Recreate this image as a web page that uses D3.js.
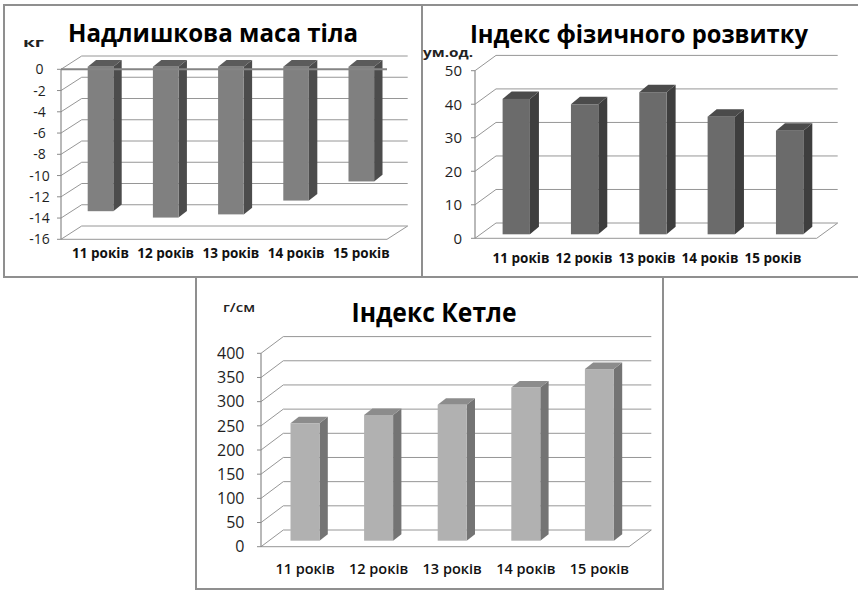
<!DOCTYPE html>
<html>
<head>
<meta charset="utf-8">
<script src="https://cdn.jsdelivr.net/npm/d3@7"></script>
<style>
  html, body { margin: 0; padding: 0; background: #fff; }
  svg { display: block; }
  text { font-family: "Open Sans", "Noto Sans", "DejaVu Sans", sans-serif; }
</style>
</head>
<body>
<svg id="chart" width="858" height="590"></svg>
<script>
// Age groups shared by all three charts
const categories = ["11 років", "12 років", "13 років", "14 років", "15 років"];

// Excess body mass, kg
const excessMass = [-13.6, -14.2, -13.9, -12.6, -10.8];
const massTicks = [0, -2, -4, -6, -8, -10, -12, -14, -16];

// Physical development index, conventional units
const developmentIndex = [40.4, 38.8, 42.4, 35.1, 30.9];
const developmentTicks = [0, 10, 20, 30, 40, 50];

// Quetelet index, g/cm
const queteletIndex = [243, 260, 281, 317, 355];
const queteletTicks = [0, 50, 100, 150, 200, 250, 300, 350, 400];

const titles = ["Надлишкова маса тіла", "Індекс фізичного розвитку", "Індекс Кетле"];
const units = ["кг", "ум.од.", "г/см"];

const svg = d3.select("#chart");

// Panel frames
const frames = [
  { x: 4, y: 5, w: 418, h: 272 },
  { x: 422, y: 5, w: 440, h: 272 },
  { x: 196, y: 277, w: 467, h: 312 }
];
svg.selectAll("rect.frame").data(frames).join("rect")
  .attr("class", "frame")
  .attr("x", d => d.x).attr("y", d => d.y)
  .attr("width", d => d.w).attr("height", d => d.h)
  .attr("fill", "none").attr("stroke", "#8f8f8f").attr("stroke-width", 2);

// Draws one pseudo-3D column chart: back wall, side wall gridlines, floor, bars, labels
function column3d(cfg) {
  const g = svg.append("g");
  const x = d3.scaleBand().domain(categories).range([cfg.left, cfg.right]).padding(0);
  const y = d3.scaleLinear().domain(cfg.domain).range([cfg.bottom, cfg.top]);
  const [dx, dy] = cfg.depth;
  const grid = "#969696";

  // side wall diagonals and back wall gridlines
  g.selectAll("line.diag").data(cfg.ticks).join("line")
    .attr("x1", cfg.left).attr("y1", d => y(d))
    .attr("x2", cfg.left + dx).attr("y2", d => y(d) + dy)
    .attr("stroke", grid).attr("stroke-width", 1);
  g.selectAll("line.back").data(cfg.ticks).join("line")
    .attr("x1", cfg.left + dx).attr("y1", d => y(d) + dy)
    .attr("x2", cfg.right + dx).attr("y2", d => y(d) + dy)
    .attr("stroke", grid).attr("stroke-width", 1);

  // floor front edge and right edge
  const floorV = cfg.domain[0];
  g.append("line")
    .attr("x1", cfg.left).attr("y1", y(floorV))
    .attr("x2", cfg.right).attr("y2", y(floorV))
    .attr("stroke", grid).attr("stroke-width", 1);
  g.append("line")
    .attr("x1", cfg.right).attr("y1", y(floorV))
    .attr("x2", cfg.right + dx).attr("y2", y(floorV) + dy)
    .attr("stroke", grid).attr("stroke-width", 1);

  // value axis line with outer ticks
  g.append("line")
    .attr("x1", cfg.left).attr("y1", y(cfg.domain[1]))
    .attr("x2", cfg.left).attr("y2", y(cfg.domain[0]))
    .attr("stroke", "#8a8a8a").attr("stroke-width", 1.2);
  g.selectAll("line.tick").data(cfg.ticks).join("line")
    .attr("x1", cfg.left - 4).attr("y1", d => y(d))
    .attr("x2", cfg.left).attr("y2", d => y(d))
    .attr("stroke", "#8a8a8a").attr("stroke-width", 1);

  // bars
  const barW = x.bandwidth() * cfg.barRatio;
  const [ox, oy] = cfg.barOffset;
  const [bdx, bdy] = cfg.barDepth;
  const bars = cfg.values.map((v, i) => {
    const x0 = x(categories[i]) + (x.bandwidth() - barW) / 2 + ox;
    const x1 = x0 + barW;
    const yt = Math.min(y(0), y(v)) + oy;
    const yb = Math.max(y(0), y(v)) + oy;
    return { x0, x1, yt, yb, cx: (x0 + x1) / 2 };
  });
  const bg = g.append("g");
  bg.selectAll("polygon.side").data(bars).join("polygon")
    .attr("points", b => [[b.x1, b.yt], [b.x1 + bdx, b.yt + bdy], [b.x1 + bdx, b.yb + bdy], [b.x1, b.yb]].join(" "))
    .attr("fill", cfg.colors.side);
  bg.selectAll("polygon.top").data(bars).join("polygon")
    .attr("points", b => [[b.x0, b.yt], [b.x1, b.yt], [b.x1 + bdx, b.yt + bdy], [b.x0 + bdx, b.yt + bdy]].join(" "))
    .attr("fill", cfg.colors.top);
  bg.selectAll("rect.front").data(bars).join("rect")
    .attr("x", b => b.x0).attr("y", b => b.yt)
    .attr("width", b => b.x1 - b.x0).attr("height", b => b.yb - b.yt)
    .attr("fill", cfg.colors.front);

  // category axis line at zero drawn in front (only where zero is not the floor)
  if (cfg.zeroLine) {
    g.append("line")
      .attr("x1", cfg.left).attr("y1", y(0))
      .attr("x2", cfg.right).attr("y2", y(0))
      .attr("stroke", "#858585").attr("stroke-width", 2);
  }

  // tick labels
  g.selectAll("text.ytick").data(cfg.ticks).join("text")
    .attr("x", cfg.tickX).attr("y", d => y(d))
    .attr("dy", "0.36em")
    .attr("text-anchor", cfg.tickAnchor)
    .attr("font-size", cfg.tickSize).attr("fill", "#1e1e1e")
    .text(d => d);

  // category labels
  const labelX = cfg.labelRange
    ? d3.scalePoint().domain(categories).range(cfg.labelRange)
    : (c) => bars[categories.indexOf(c)].cx;
  g.selectAll("text.cat").data(categories).join("text")
    .attr("x", d => labelX(d)).attr("y", cfg.labelY)
    .attr("text-anchor", "middle")
    .attr("font-size", cfg.labelSize).attr("font-weight", cfg.labelWeight)
    .attr("fill", "#111")
    .text(d => d);

  // title
  g.append("text")
    .attr("x", cfg.titlePos[0]).attr("y", cfg.titlePos[1])
    .attr("text-anchor", "middle")
    .attr("font-size", cfg.titleSize).attr("font-weight", "bold").attr("fill", "#000")
    .attr("textLength", cfg.titleLen).attr("lengthAdjust", "spacingAndGlyphs")
    .text(cfg.title);

  // unit label
  g.append("text")
    .attr("x", cfg.unitPos[0]).attr("y", cfg.unitPos[1])
    .attr("font-size", cfg.unitSize).attr("font-weight", cfg.unitWeight).attr("fill", "#222")
    .attr("textLength", cfg.unitLen).attr("lengthAdjust", "spacingAndGlyphs")
    .text(cfg.unit);
}

column3d({
  values: excessMass, ticks: massTicks, domain: [-16, 0],
  left: 61, right: 387, top: 69.3, bottom: 239.3, depth: [20.7, -13.3],
  barRatio: 0.393, barOffset: [6.9, -2.6], barDepth: [8.4, -6.7],
  colors: { front: "#808080", side: "#4c4c4c", top: "#5b5b5b" },
  zeroLine: true,
  tickX: 39.5, tickAnchor: "middle", tickSize: 14,
  labelY: 257.5, labelSize: 13.5, labelWeight: "bold",
  title: titles[0], titlePos: [213, 42], titleSize: 24.5, titleLen: 290,
  unit: units[0], unitPos: [23, 46.5], unitSize: 13, unitWeight: "bold", unitLen: 21
});

column3d({
  values: developmentIndex, ticks: developmentTicks, domain: [0, 50],
  left: 475, right: 816.7, top: 70.7, bottom: 238.3, depth: [21, -15.3],
  barRatio: 0.4, barOffset: [7.1, -4], barDepth: [9, -7.5],
  colors: { front: "#6b6b6b", side: "#3e3e3e", top: "#4b4b4b" },
  zeroLine: false, labelRange: [521, 773],
  tickX: 462, tickAnchor: "end", tickSize: 15,
  labelY: 263, labelSize: 13.5, labelWeight: "bold",
  title: titles[1], titlePos: [639, 42.5], titleSize: 24.5, titleLen: 338,
  unit: units[1], unitPos: [423, 57], unitSize: 12, unitWeight: "bold", unitLen: 50
});

column3d({
  values: queteletIndex, ticks: queteletTicks, domain: [0, 400],
  left: 261, right: 629, top: 353.3, bottom: 546.7, depth: [22.3, -16.7],
  barRatio: 0.394, barOffset: [7.2, -6], barDepth: [8.3, -6.5],
  colors: { front: "#b1b1b1", side: "#747474", top: "#8c8c8c" },
  zeroLine: false,
  tickX: 244.5, tickAnchor: "end", tickSize: 16,
  labelY: 573.5, labelSize: 14.5, labelWeight: 600,
  title: titles[2], titlePos: [434, 321.5], titleSize: 26, titleLen: 165,
  unit: units[2], unitPos: [223, 312], unitSize: 12, unitWeight: 600, unitLen: 32
});
</script>
</body>
</html>
